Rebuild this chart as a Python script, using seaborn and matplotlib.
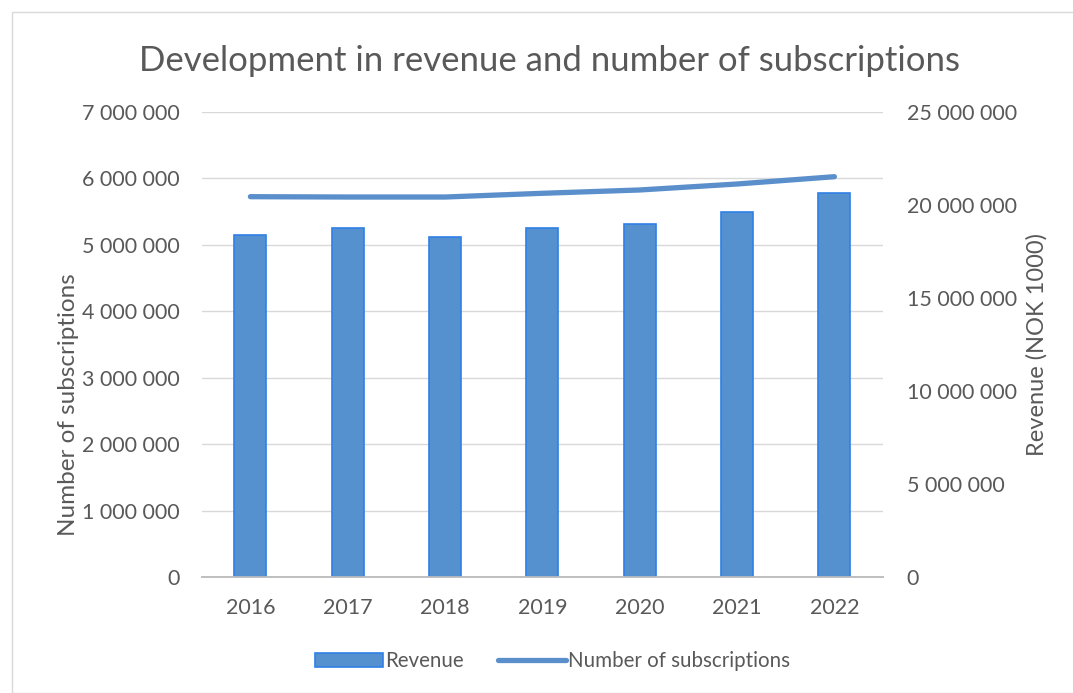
import matplotlib
matplotlib.use('Agg')
import matplotlib.pyplot as plt
import seaborn as sns
import pandas as pd
from matplotlib.ticker import FuncFormatter, MultipleLocator
from matplotlib.patches import Rectangle, Patch
from matplotlib.lines import Line2D

# Data
years = ['2016', '2017', '2018', '2019', '2020', '2021', '2022']
revenue = [18390000, 18750000, 18300000, 18780000, 18960000, 19620000, 20660000]   # NOK 1000
subscriptions = [5725000, 5720000, 5720000, 5776000, 5826000, 5916000, 6026000]

bar_color = '#5590cf'
bar_edge = '#2f80e8'
line_color = '#5a8fcb'
text_color = '#595959'

sns.set_theme(style='white')
plt.rcParams['font.family'] = ['Lato', 'DejaVu Sans']

df = pd.DataFrame({'Year': years, 'Revenue': revenue, 'Subscriptions': subscriptions})

fig = plt.figure(figsize=(10.73, 6.93), dpi=100)
ax1 = fig.add_axes([0.188, 0.1674, 0.635, 0.671])
ax2 = ax1.twinx()

# light border around the chart area
fig.patches.append(Rectangle((12 / 1073, 0), 1.0, 1 - 12 / 693, transform=fig.transFigure,
                             fill=False, edgecolor='#d9d9d9', linewidth=1.0))

# bars = revenue on right axis
sns.barplot(data=df, x='Year', y='Revenue', ax=ax2, color=bar_color, width=0.33,
            edgecolor=bar_edge, linewidth=1.2, saturation=1)
# line = subscriptions on left axis
sns.lineplot(data=df, x='Year', y='Subscriptions', ax=ax1, color=line_color, linewidth=3.8,
             solid_capstyle='round', sort=False)

fmt = FuncFormatter(lambda v, p: f'{int(v):,}'.replace(',', ' '))

ax1.set_ylim(0, 7000000)
ax1.yaxis.set_major_locator(MultipleLocator(1000000))
ax1.yaxis.set_major_formatter(fmt)
ax2.set_ylim(0, 25000000)
ax2.yaxis.set_major_locator(MultipleLocator(5000000))
ax2.yaxis.set_major_formatter(fmt)
ax1.set_xlim(-0.5, 6.5)

ax1.grid(axis='y', color='#d9d9d9', linewidth=1.0)
ax1.set_axisbelow(True)
for ax in (ax1, ax2):
    for s in ('top', 'left', 'right'):
        ax.spines[s].set_visible(False)
    ax.spines['bottom'].set_color('#bfbfbf')
    ax.tick_params(axis='both', length=0, colors=text_color, labelsize=15.5)
ax1.tick_params(axis='y', pad=16)
ax2.tick_params(axis='y', pad=17)
ax1.tick_params(axis='x', pad=15)

ax1.set_xlabel('')
ax2.set_xlabel('')
ax1.set_ylabel('Number of subscriptions', color=text_color, fontsize=17.5, labelpad=6)
ax1.yaxis.set_label_coords(-0.18, 0.37)
ax2.set_ylabel('Revenue (NOK 1000)', color=text_color, fontsize=17, labelpad=7)

fig.suptitle('Development in revenue and number of subscriptions', x=0.512, y=0.935,
             fontsize=25, color=text_color)

handles = [Patch(facecolor=bar_color, edgecolor=bar_edge, linewidth=1.2),
           Line2D([0], [0], color=line_color, linewidth=3.8, solid_capstyle='round')]
fig.legend(handles, ['Revenue', 'Number of subscriptions'], loc='center', ncol=2,
           bbox_to_anchor=(0.515, 0.046), frameon=False, fontsize=14.8,
           labelcolor=text_color, handlelength=3.3, handletextpad=0.1, columnspacing=1.7)

fig.savefig('out.png', dpi=100)
